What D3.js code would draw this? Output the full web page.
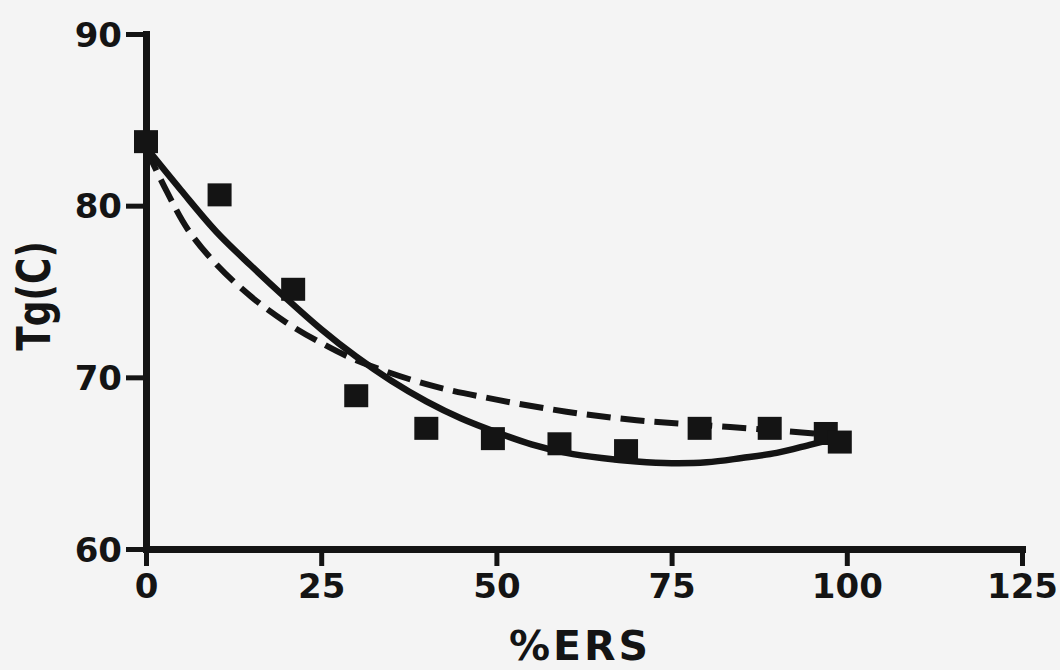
<!DOCTYPE html>
<html>
<head>
<meta charset="utf-8">
<script src="https://cdnjs.cloudflare.com/ajax/libs/d3/7.8.5/d3.min.js"></script>
<style>
  body { margin: 0; background: #f4f4f4; }
  svg { display: block; }
  .tick text { font-family: "DejaVu Sans", sans-serif; font-weight: bold; }
</style>
</head>
<body>
<svg id="canvas"></svg>
<script>
"use strict";

// measured points (%ERS, Tg)
const ersValues = [0, 10.5, 21, 30, 40, 49.5, 59, 68.5, 79, 89, 97, 99];
const tgValues = [83.7, 80.6, 75.1, 68.9, 67.0, 66.4, 66.1, 65.7, 67.0, 67.0, 66.7, 66.2];

// solid fitted curve
const solidX = [0, 5, 10, 15, 20, 25, 30, 35, 40, 45, 50, 55, 60, 65, 70, 75, 80, 85, 90, 95, 99];
const solidY = [83.4, 80.9, 78.5, 76.5, 74.6, 72.8, 71.2, 69.8, 68.6, 67.6, 66.8, 66.1, 65.6, 65.3, 65.1, 65.0, 65.05, 65.3, 65.6, 66.1, 66.5];

// dashed fitted curve
const dashX = [0, 3, 6, 10, 15, 20, 25, 30, 40, 50, 60, 70, 80, 90, 99];
const dashY = [83.3, 80.8, 78.6, 76.6, 74.7, 73.2, 72.0, 71.0, 69.6, 68.7, 68.0, 67.5, 67.2, 66.9, 66.6];

const xTicks = [0, 25, 50, 75, 100, 125];
const yTicks = [60, 70, 80, 90];

let width = 1060;
let height = 670;

let canvas = d3.select('#canvas')
    .attr('width', width)
    .attr('height', height);

let xScale = d3.scaleLinear()
    .domain([0, 125])
    .range([146, 1022]);

let yScale = d3.scaleLinear()
    .domain([60, 90])
    .range([549, 34]);

const ink = '#141414';

let drawAxes = () => {
    let xAxis = d3.axisBottom(xScale)
        .tickValues(xTicks)
        .tickSize(17)
        .tickSizeOuter(0)
        .tickPadding(8);

    let yAxis = d3.axisLeft(yScale)
        .tickValues(yTicks)
        .tickSize(20)
        .tickSizeOuter(0)
        .tickPadding(4);

    let gx = canvas.append('g')
        .attr('id', 'x-axis')
        .attr('transform', 'translate(0, ' + yScale(60) + ')')
        .call(xAxis);

    let gy = canvas.append('g')
        .attr('id', 'y-axis')
        .attr('transform', 'translate(' + xScale(0) + ', 0)')
        .call(yAxis);

    [gx, gy].forEach((g) => {
        g.select('.domain')
            .attr('stroke', ink)
            .attr('stroke-width', 7)
            .attr('stroke-linecap', 'square');
        g.selectAll('.tick line')
            .attr('stroke', ink)
            .attr('stroke-width', 5);
        g.selectAll('.tick text')
            .attr('fill', ink)
            .style('font-size', '34px');
    });

    gy.selectAll('.tick text').attr('dy', '0.36em');

    canvas.append('text')
        .attr('x', 580)
        .attr('y', 660)
        .attr('text-anchor', 'middle')
        .attr('fill', ink)
        .style('font-family', '"DejaVu Sans", sans-serif')
        .style('font-weight', 'bold')
        .style('font-size', '41px')
        .style('letter-spacing', '3px')
        .text('%ERS');

    // y label looks tall and narrow in the scan
    canvas.append('text')
        .attr('transform', 'translate(50, 296) rotate(-90) scale(1, 1.3)')
        .attr('text-anchor', 'middle')
        .attr('fill', ink)
        .style('font-family', '"DejaVu Sans", sans-serif')
        .style('font-weight', 'bold')
        .style('font-size', '36px')
        .text('Tg(C)');
};

let drawCurves = () => {
    let line = d3.line()
        .x((d) => xScale(d[0]))
        .y((d) => yScale(d[1]))
        .curve(d3.curveCatmullRom);

    canvas.append('path')
        .datum(dashX.map((x, i) => [x, dashY[i]]))
        .attr('d', line)
        .attr('fill', 'none')
        .attr('stroke', ink)
        .attr('stroke-width', 6)
        .attr('stroke-dasharray', '24,10');

    canvas.append('path')
        .datum(solidX.map((x, i) => [x, solidY[i]]))
        .attr('d', line)
        .attr('fill', 'none')
        .attr('stroke', ink)
        .attr('stroke-width', 6.5);
};

let drawPoints = () => {
    let size = 24;
    canvas.selectAll('rect.point')
        .data(ersValues)
        .enter()
        .append('rect')
        .attr('class', 'point')
        .attr('x', (d) => xScale(d) - size / 2)
        .attr('y', (d, i) => yScale(tgValues[i]) - size / 2)
        .attr('width', size)
        .attr('height', size - 1)
        .attr('fill', ink);
};

drawCurves();
drawAxes();
drawPoints();
</script>
</body>
</html>
